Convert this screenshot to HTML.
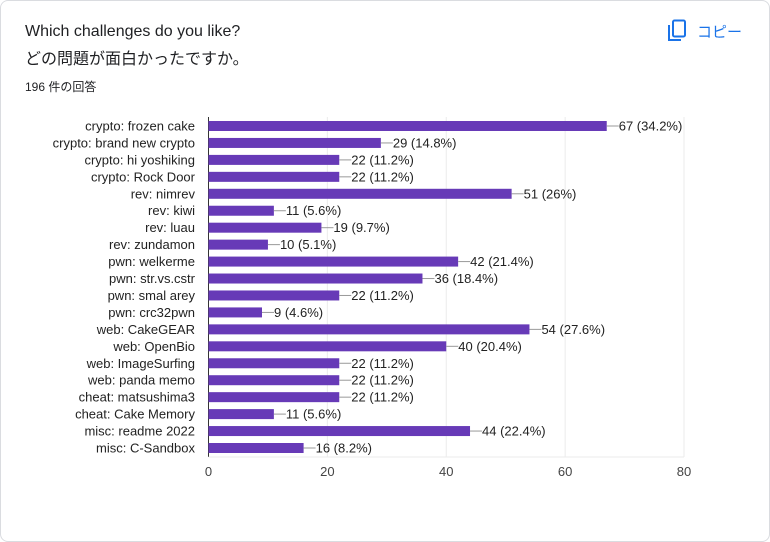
<!DOCTYPE html>
<html><head><meta charset="utf-8"><style>
body{margin:0;width:770px;height:542px;background:#fff;font-family:"Liberation Sans","Noto Sans CJK JP",sans-serif;}
.card{position:absolute;left:0;top:0;width:768px;height:540px;border:1px solid #dadce0;border-radius:8px;background:#fff;}
.t{position:absolute;left:24px;color:#202124;}
</style></head><body>
<div class="card">
<div class="t" style="top:22px;font-size:16px;">Which challenges do you like?</div>
<div class="t" style="top:44px;font-size:16px;">どの問題が面白かったですか。</div>
<div class="t" style="top:77px;font-size:12px;">196 件の回答</div>
<div style="position:absolute;left:666px;top:18px;display:flex;align-items:center;color:#1a73e8;font-size:15px;cursor:pointer">
<svg width="22" height="24" viewBox="0 0 22 24"><rect x="6" y="1.5" width="12" height="16" rx="1.5" fill="none" stroke="#1a73e8" stroke-width="2"/><path d="M2 6v15h12" fill="none" stroke="#1a73e8" stroke-width="2"/></svg>
<span style="margin-left:8px">コピー</span></div>
<svg id="c" width="770" height="542" style="position:absolute;left:-1px;top:-1px"></svg>
</div>
<script>
const categories=["crypto: frozen cake","crypto: brand new crypto","crypto: hi yoshiking","crypto: Rock Door","rev: nimrev","rev: kiwi","rev: luau","rev: zundamon","pwn: welkerme","pwn: str.vs.cstr","pwn: smal arey","pwn: crc32pwn","web: CakeGEAR","web: OpenBio","web: ImageSurfing","web: panda memo","cheat: matsushima3","cheat: Cake Memory","misc: readme 2022","misc: C-Sandbox"];
const values=[67,29,22,22,51,11,19,10,42,36,22,9,54,40,22,22,22,11,44,16];
const percents=["34.2%","14.8%","11.2%","11.2%","26%","5.6%","9.7%","5.1%","21.4%","18.4%","11.2%","4.6%","27.6%","20.4%","11.2%","11.2%","11.2%","5.6%","22.4%","8.2%"];
const ticks=[0,20,40,60,80];
const svg=document.getElementById('c');const NS='http://www.w3.org/2000/svg';
const x0=208.5,x1=684,top0=117,bot=457,xmax=80;
const xs=v=>x0+v*(x1-x0)/xmax;
const step=(448-126)/19;const yc=i=>126+i*step;
function mk(t,a){const e=document.createElementNS(NS,t);for(const k in a)e.setAttribute(k,a[k]);svg.appendChild(e);return e;}
ticks.forEach(t=>{const g=mk('line',{x1:xs(t),x2:xs(t),y1:top0,y2:bot,stroke:t?'#ebebeb':'#333','stroke-width':1});


const l=mk('text',{x:xs(t),y:476,'text-anchor':'middle','font-size':13,fill:'#444'});l.textContent=t;

});
mk('line',{x1:x0,x2:x1,y1:bot,y2:bot,stroke:'#ebebeb'});
categories.forEach((c,i)=>{const y=yc(i);
const lb=mk('text',{x:195,y:y+4.5,'text-anchor':'end','font-size':13,fill:'#222'});lb.textContent=c;


const b=mk('rect',{x:x0,y:y-5,width:xs(values[i])-x0,height:10,fill:'#673ab7'});


const e=xs(values[i]);
mk('line',{x1:e,x2:e+12,y1:y,y2:y,stroke:'#999','stroke-width':1});
const v=mk('text',{x:e+12,y:y+4.5,'font-size':13,fill:'#222'});v.textContent=values[i]+' ('+percents[i]+')';

});
</script>
</body></html>
